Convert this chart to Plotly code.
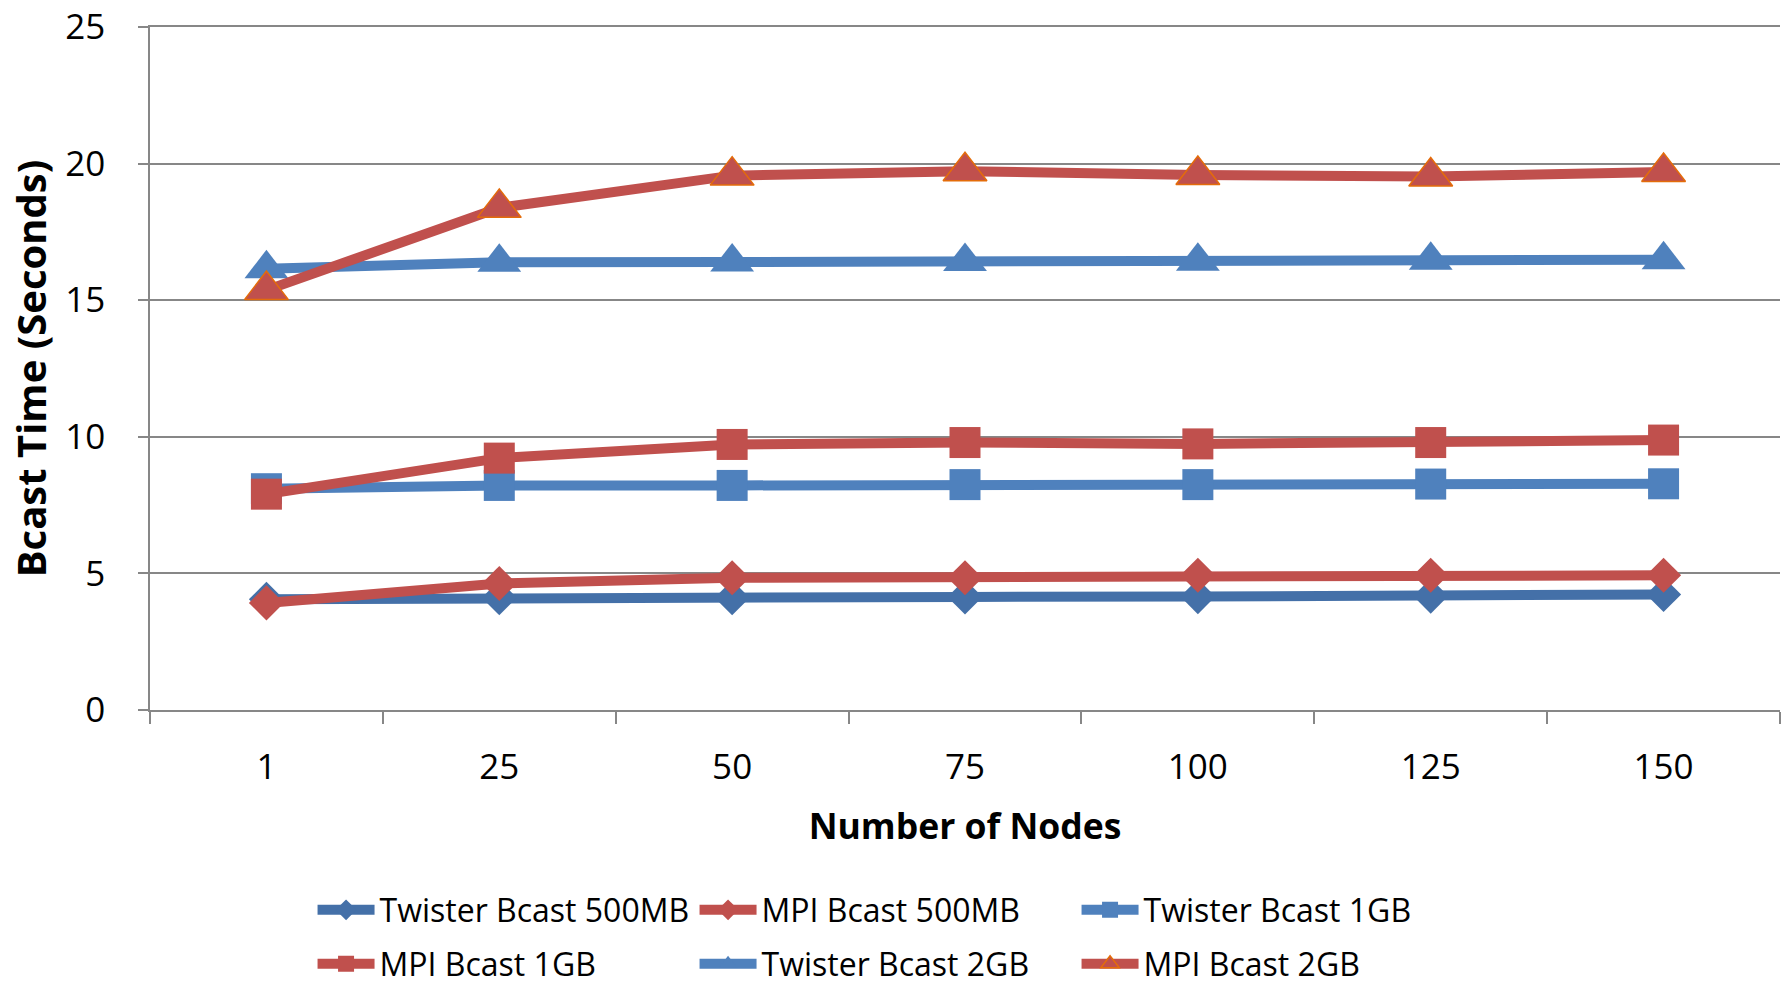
import plotly.graph_objects as go

nodes = ["1", "25", "50", "75", "100", "125", "150"]
twister_500mb = [4.05, 4.11, 4.11, 4.14, 4.15, 4.17, 4.23]
mpi_500mb = [3.92, 4.63, 4.84, 4.84, 4.93, 4.93, 4.93]
twister_1gb = [8.10, 8.22, 8.22, 8.25, 8.25, 8.27, 8.28]
mpi_1gb = [7.90, 9.22, 9.72, 9.79, 9.74, 9.79, 9.88]
twister_2gb = [16.15, 16.39, 16.40, 16.42, 16.43, 16.46, 16.48]
mpi_2gb = [15.37, 18.38, 19.56, 19.72, 19.58, 19.53, 19.69]

BLUE = "#4F81BD"
DARKBLUE = "#4470A8"
RED = "#C0504D"
ORANGE = "#E46C0A"

series = [
    ("Twister Bcast 500MB", twister_500mb, DARKBLUE, "diamond", 27, None, "legend"),
    ("MPI Bcast 500MB", mpi_500mb, RED, "diamond", 27, None, "legend"),
    ("Twister Bcast 1GB", twister_1gb, BLUE, "square", 31, None, "legend"),
    ("MPI Bcast 1GB", mpi_1gb, RED, "square", 31, None, "legend2"),
    ("Twister Bcast 2GB", twister_2gb, BLUE, "triangle-up", 38, None, "legend2"),
    ("MPI Bcast 2GB", mpi_2gb, RED, "triangle-up", 38, ORANGE, "legend2"),
]

fig = go.Figure()
for name, vals, color, sym, size, outline, leg in series:
    fig.add_trace(go.Scatter(
        x=nodes, y=vals, name=name, mode="lines+markers",
        line=dict(color=color, width=10),
        marker=dict(symbol=sym, size=size, color=color,
                    line=dict(color=outline if outline else color,
                              width=1.5 if outline else 0)),
        legend=leg,
    ))

FONT = "Open Sans"
GRID = "#878787"

fig.update_layout(
    width=1786, height=987,
    margin=dict(l=150, r=6, t=27, b=277),
    paper_bgcolor="white", plot_bgcolor="white",
    font=dict(family=FONT, color="black"),
    xaxis=dict(
        type="category", range=[-0.5, 6.5], tickson="boundaries", ticks="outside", ticklen=12,
        tickcolor=GRID, tickwidth=1.5, showline=True, mirror=True, linecolor=GRID, linewidth=1.5,
        showgrid=False, tickfont=dict(size=35, family=FONT), ticklabelstandoff=25,
        title=dict(text="<b>Number of Nodes</b>", font=dict(size=35.5, family=FONT), standoff=26),
        automargin=False,
    ),
    yaxis=dict(
        range=[0, 25], tickvals=[0, 5, 10, 15, 20, 25], ticks="outside", ticklen=10,
        tickcolor=GRID, tickwidth=1.5, ticklabeloverflow="allow",
        showline=True, linecolor=GRID, linewidth=1.5, showgrid=True, gridcolor=GRID, gridwidth=1.5,
        zeroline=False, tickfont=dict(size=35, family=FONT), ticklabelstandoff=26,
        title=dict(text="<b>Bcast Time (Seconds)</b>", font=dict(size=40, family=FONT), standoff=6),
        automargin=False,
    ),
    legend=dict(
        orientation="h", xref="container", yref="container", x=0.175, y=1 - 910 / 987,
        xanchor="left", yanchor="middle", entrywidth=310, entrywidthmode="pixels",
        font=dict(size=32, family=FONT), itemwidth=57, bgcolor="rgba(0,0,0,0)",
    ),
    legend2=dict(
        orientation="h", xref="container", yref="container", x=0.175, y=1 - 964 / 987,
        xanchor="left", yanchor="middle", entrywidth=310, entrywidthmode="pixels",
        font=dict(size=32, family=FONT), itemwidth=57, bgcolor="rgba(0,0,0,0)",
    ),
    showlegend=True,
)

fig.write_html("out.html")
